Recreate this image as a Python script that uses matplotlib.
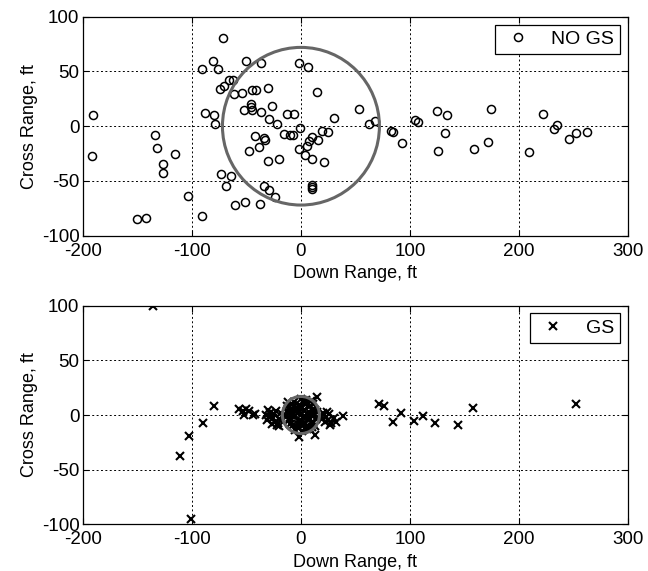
import numpy as np
import matplotlib
matplotlib.use("Agg")
import matplotlib.pyplot as plt
from matplotlib.patches import Circle

plt.rcParams['font.family'] = ['Liberation Sans', 'DejaVu Sans']
plt.rcParams['axes.unicode_minus'] = False

# NO GS impact points (ft)
nogs_x = [-71.5, -80.3, -90.7, -76.3, -50, -36.6, -2, 6.1, 14.7, -73.9, -70.2, -66.2, -62,
          -61.7, -54, -45.2, -41.2, -30.5, -45.5, -45.5, -45, -51.9, -36.6, -26.9, -29, -22,
          -13.1, -6.1, -87.6, -79.7, -78.5, -190.5, -191.4, -134, -132.5, -127, -127, -115.4,
          -41.8, -34.2, -32.7, -38.2, -47.9, -30.2, -19.8, -15.3, -10.1, -7, -0.6, -1.8, 4,
          9.8, 5.8, 7.6, 9.8, 15.9, 19.2, 24.4, 20.8, 29.9, 53.7, 62.6, 68.1, 9.8, 9.8, 9.8,
          -73.6, -64.1, -68.4, -34.2, -29, -23.8, -60.1, -51.6, -37.9, -103.5, -90.4, -150.2,
          -141.9, 82.4, 84.5, 93.1, 104.7, 107.7, 124.8, 133.9, 131.9, 126, 158.4, 171.2,
          174.3, 209.7, 222.5, 235, 232.3, 246.3, 252.4, 262.5]
nogs_y = [80.7, 60, 52.7, 52.7, 60, 57.5, 57.8, 53.9, 31, 34.4, 36.5, 42, 42,
          29.2, 30.4, 32.9, 32.9, 35.3, 20.7, 17.7, 15.2, 15.2, 12.8, 18.3, 6.7, 2.4,
          11.6, 11.6, 12.5, 10.7, 1.8, 10.7, -27.1, -7.9, -20.1, -34.4, -42.9, -25.6,
          -8.5, -11, -12.8, -18.9, -22.2, -31.7, -29.8, -7, -7.9, -7.9, -1.2, -21, -26.2,
          -29.5, -17.7, -13.7, -9.7, -12.2, -4.3, -4.9, -32.9, 7.3, 15.8, 2.1, 4.9, -53.3, -55.4, -57.2,
          -43.2, -45.1, -54.5, -54.5, -58.4, -65.1, -72.1, -69.4, -71.2, -63.6, -82.2, -84.6,
          -84, -4, -5, -15.2, 6.1, 4.3, 13.7, 10.7, -6.1, -22.2, -21, -14.3,
          15.8, -23.1, 11.6, 1.2, -2.4, -11.6, -6.4, -5.5]

# GS impact points (ft)
gs_x = [-135.8, -80, -90, -102.3, -110.5, -101.3,
        -56.5, -53.4, -50.4, -47.3, -51.9, -44.3, -42,
        -30, -28, -26, -24, -22, -27, -20, -32, -18, -23, -20, -29, -25, -31, -21,
        20, 23, 25, 28, 30, 26, 32, 22, 18, 38.2, 27, 24, 19,
        14.7, 13.1, -1.6,
        71.7, 76.3, 84.5, 92.2, 104, 112, 123, 143.7, 157.5, 252.7,
        0, 3, -4, 5, -6, 8, -8, 10, -10, 2, -2, 12, -12, 6, -6, 9, -11, 4, -3, 7,
        -7, 11, -13, 1, 14, -14, 5, -5, 13, -9, 0, 6, -1, 3, 8, -12, 10, -5,
        -2, 2, -8, 8, 4, -4, 11, -11, 0, 7, -7, 15, -15, 1, -1, 5, -10, 12, -6, 3,
        -3, 9, -9, 6, 13, -13, 0, 10, -2, 4]
gs_y = [100, 8.5, -7.6, -18.9, -37.2, -95.4,
        5.5, 4, 5.2, 4, 0, 0, 1,
        5, 2, -3, -6, -9, -8, -4, 0, 2, 4, -10, -2, 1, -5, -7,
        2, -2, -5, -7, -3, 1, -6, -6, -1, -0.9, -9, 3, -4,
        16.2, -18.3, -19.8,
        10, 8.5, -6.1, 1.5, -5.5, -0.9, -7.6, -9.1, 6.1, 10.1,
        0, 5, 6, -3, -2, 8, 10, -6, -8, 12, -12, 2, 3, -10, 12, 13, -5, -7, 2, 3,
        -9, 10, 8, -15, -4, -2, 14, -14, -10, 0, 7, 1, -5, -1, -13, 12, 5, 4,
        9, -8, 4, -4, 10, -11, -7, 7, 15, -3, 1, 3, -1, 6, -6, -12, -3, 0, 8, 11,
        -8, 0, 5, -13, 5, 4, -9, -11, 3, 13]

nogs_radius = 72
gs_radius = 17

fig = plt.figure(figsize=(6.48, 5.71), dpi=100)
ax1 = fig.add_axes([0.128, 0.5872, 0.841, 0.3835])
ax2 = fig.add_axes([0.128, 0.0818, 0.841, 0.3828])

panels = [(ax1, nogs_x, nogs_y, 'o', 'NO GS', nogs_radius),
          (ax2, gs_x, gs_y, 'x', 'GS', gs_radius)]

for ax, xs, ys, mk, lab, rad in panels:
    if mk == 'o':
        ax.plot(xs, ys, 'o', mfc='none', mec='black', ms=5.8, mew=1.1, ls='none', label=lab)
    else:
        ax.plot(xs, ys, 'x', color='black', ms=5.5, mew=1.5, ls='none', label=lab)
    ax.add_patch(Circle((0, 0), rad, fill=False, ec='#666666', lw=2.2, zorder=3))
    ax.set_xlim(-200, 300)
    ax.set_ylim(-100, 100)
    ax.set_xticks([-200, -100, 0, 100, 200, 300])
    ax.set_yticks([-100, -50, 0, 50, 100])
    ax.grid(True, color='black', ls=(0, (2, 2.5)), lw=0.7)
    ax.tick_params(direction='in', labelsize=13.5, length=4, width=0.8, top=True, right=True)
    ax.tick_params(axis='x', pad=5)
    ax.tick_params(axis='y', pad=2.5)
    for s in ax.spines.values():
        s.set_linewidth(0.9)
    ax.set_xlabel('Down Range, ft', fontsize=13, labelpad=4)
    ax.set_ylabel('Cross Range, ft', fontsize=13, labelpad=3)
    leg = ax.legend(loc='upper right', fontsize=14, fancybox=False, framealpha=1,
                    edgecolor='black', handlelength=1.8, handletextpad=0.8,
                    borderpad=0.3, borderaxespad=0.4)
    leg.get_frame().set_linewidth(0.9)

fig.savefig('out.png', dpi=100)
